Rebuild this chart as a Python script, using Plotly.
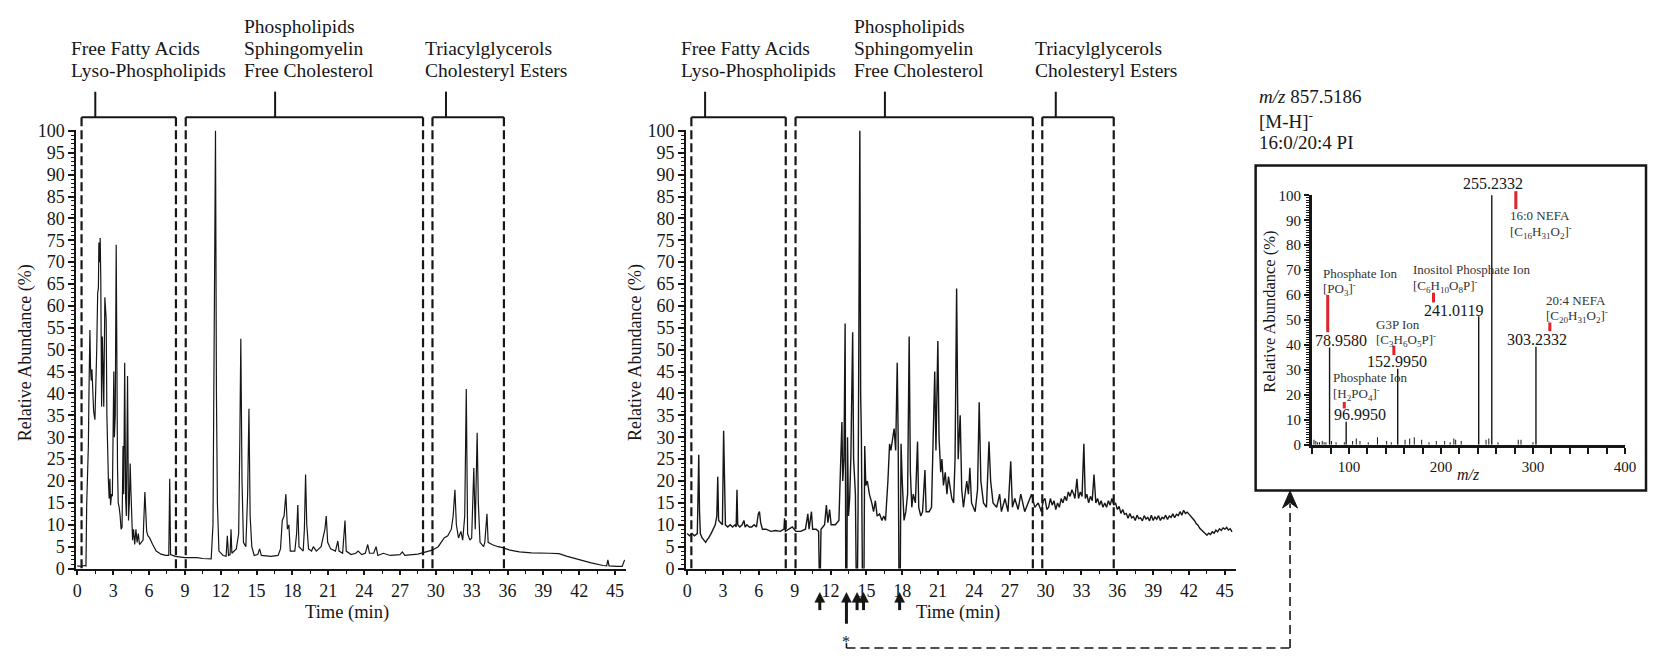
import plotly.graph_objects as go

W, H = 1658, 660
FONT = "Liberation Serif, 'Times New Roman', Times, serif"
INK = "#161616"

# ---------------- data ----------------
LEFT_T = [0.0, 0.3, 0.6, 0.72, 0.78, 0.86, 0.92, 0.97, 1.05, 1.1, 1.16, 1.22, 1.29, 1.36, 1.47, 1.55, 1.62, 1.7, 1.76, 1.8,
          1.86, 1.91, 1.96, 2.03, 2.09, 2.15, 2.21, 2.3, 2.36, 2.41, 2.47, 2.53, 2.6, 2.66, 2.72, 2.78, 2.86, 2.93, 3.0, 3.05,
          3.1, 3.17, 3.25, 3.3, 3.36, 3.42, 3.5, 3.58, 3.66, 3.74, 3.82, 3.88, 3.96, 4.04, 4.1, 4.2, 4.28, 4.35, 4.42, 4.48,
          4.55, 4.62, 4.7, 4.8, 4.9, 5.0, 5.1, 5.2, 5.35, 5.5, 5.65, 5.72, 5.8, 5.9, 6.05, 6.3, 6.6, 7.0, 7.4, 7.65,
          7.73, 7.8, 8.2, 9.0, 10.0, 10.5, 11.2, 11.35, 11.48, 11.56, 11.64, 11.72, 11.85, 12.2, 12.45, 12.55, 12.65, 12.78, 12.86, 12.93,
          13.3, 13.5, 13.6, 13.68, 13.78, 13.9, 14.1, 14.25, 14.36, 14.46, 14.6, 14.8, 15.1, 15.25, 15.4, 16.2, 16.8, 17.0, 17.15, 17.3,
          17.45, 17.58, 17.7, 17.82, 18.2, 18.35, 18.45, 18.55, 18.9, 19.0, 19.1, 19.2, 19.35, 19.6, 19.75, 20.0, 20.4, 20.6, 20.72, 20.83,
          20.95, 21.2, 21.6, 21.8, 21.9, 22.2, 22.4, 22.5, 22.9, 23.3, 23.5, 23.8, 24.1, 24.3, 24.45, 24.8, 25.0, 25.15, 25.6, 26.2,
          27.0, 27.2, 27.4, 28.5, 29.2, 29.7, 30.2, 30.7, 31.0, 31.3, 31.45, 31.6, 31.72, 31.9, 32.1, 32.25, 32.42, 32.55, 32.66, 32.85,
          33.0, 33.18, 33.3, 33.46, 33.56, 33.7, 34.0, 34.1, 34.28, 34.38, 34.7, 35.2, 35.6, 36.2, 37.0, 38.0, 39.5, 40.3, 41.0, 42.0,
          43.0, 44.0, 44.3, 44.4, 44.5, 45.2, 45.6, 45.8]
LEFT_Y = [0.6, 0.5, 0.7, 0.6, 14.5, 22, 28, 40, 54.5, 46, 43, 45.5, 38, 36, 34, 40, 50, 63, 64, 74.5,
          70, 75.5, 66, 37, 53, 46, 37, 62, 58, 57, 35, 25, 20, 16, 20.5, 14.5, 17, 16.5, 36, 45,
          30, 35, 74, 45, 23, 15, 14, 12, 9, 9.5, 28, 17, 47, 16, 12, 44, 11, 15, 24, 18,
          10, 6.5, 9, 5.5, 9, 6, 8, 5.5, 6, 6.5, 17.5, 12, 8.5, 7.5, 7, 5.5, 4, 3.3, 3, 3,
          20.5, 3.2, 2.8, 2.5, 2.5, 2.3, 2.2, 10, 73, 100, 40, 15, 4, 3, 2.8, 7.5, 3, 3.2, 9, 3.5,
          4.5, 8, 30, 52.5, 20, 6, 5, 17, 36.5, 12, 5, 3, 3.2, 4.5, 3, 2.8, 3, 4.5, 11, 12,
          17, 9, 10, 4, 4, 8, 14.5, 5, 4, 9, 21.5, 10, 4.5, 4, 5, 4, 5, 8, 9, 12,
          6, 4.5, 4, 6.3, 4, 3.5, 11, 4, 3.2, 3.5, 4, 3.2, 3.5, 5.5, 3.5, 3.5, 5, 3, 3.5, 3,
          3.2, 3.8, 3, 3.3, 3.8, 4.2, 5, 7, 7.5, 9, 12, 18, 10, 7, 8.5, 6.5, 12, 41, 8, 6.5,
          7, 23, 9, 31, 15, 6, 5, 6, 12.5, 6, 5.5, 5, 4.8, 4.2, 3.8, 3.6, 3.5, 3.4, 2.8, 2.0,
          1.3, 0.7, 0.6, 2, 0.6, 0.5, 0.5, 2]

MID_T = [0.0, 0.2, 0.4, 0.6, 0.85, 0.97, 1.03, 1.1, 1.25, 1.4, 1.55, 1.65, 1.8, 2.0, 2.2, 2.35, 2.48, 2.56, 2.63, 2.8,
         2.95, 3.05, 3.12, 3.2, 3.4, 3.6, 3.8, 4.0, 4.1, 4.17, 4.23, 4.4, 4.6, 4.75, 4.85, 5.0, 5.2, 5.4, 5.6, 5.8,
         5.95, 6.05, 6.15, 6.3, 6.6, 7.0, 7.4, 7.8, 8.1, 8.15, 8.22, 8.5, 8.8, 9.1, 9.5, 9.9, 10.1, 10.2, 10.4, 10.5,
         10.8, 11.0, 11.05, 11.15, 11.2, 11.5, 11.65, 11.78, 11.92, 12.05, 12.4, 12.7, 12.8, 12.95, 13.02, 13.12, 13.22, 13.27, 13.37, 13.42,
         13.5, 13.6, 13.7, 13.85, 13.93, 14.02, 14.08, 14.14, 14.26, 14.3, 14.38, 14.45, 14.52, 14.58, 14.66, 14.8, 14.86, 14.95, 15.08, 15.25,
         15.45, 15.6, 15.75, 15.9, 16.1, 16.3, 16.45, 16.6, 16.8, 16.94, 17.05, 17.18, 17.32, 17.45, 17.58, 17.66, 17.72, 17.84, 17.9, 18.0,
         18.15, 18.3, 18.45, 18.58, 18.68, 18.8, 18.92, 19.1, 19.28, 19.38, 19.55, 19.7, 19.9, 20.0, 20.25, 20.45, 20.62, 20.72, 20.82, 20.98,
         21.08, 21.22, 21.32, 21.45, 21.6, 21.74, 21.87, 22.0, 22.15, 22.3, 22.42, 22.55, 22.68, 22.85, 22.98, 23.12, 23.26, 23.4, 23.54, 23.66,
         23.8, 24.1, 24.3, 24.44, 24.58, 24.8, 25.05, 25.26, 25.4, 25.6, 25.9, 26.15, 26.3, 26.6, 26.85, 27.08, 27.22, 27.42, 27.7, 27.92,
         28.25, 28.55, 28.82, 29.1, 29.38, 29.65, 29.8, 29.95, 30.1, 30.25, 30.4, 30.55, 30.7, 30.85, 31.0, 31.15, 31.3, 31.45, 31.6, 31.75,
         31.9, 32.05, 32.2, 32.35, 32.45, 32.62, 32.75, 32.9, 33.05, 33.2, 33.32, 33.45, 33.6, 33.75, 33.9, 34.05, 34.2, 34.35, 34.5, 34.65,
         34.8, 34.95, 35.1, 35.25, 35.4, 35.55, 35.7, 35.85, 36.0, 36.15, 36.3, 36.45, 36.6, 36.75, 36.9, 37.05, 37.2, 37.35, 37.5, 37.65,
         37.8, 37.95, 38.1, 38.25, 38.4, 38.55, 38.7, 38.85, 39.0, 39.15, 39.3, 39.45, 39.6, 39.75, 39.9, 40.05, 40.2, 40.35, 40.5, 40.65,
         40.8, 40.95, 41.1, 41.25, 41.4, 41.55, 41.7, 41.85, 42.0, 42.15, 42.3, 42.45, 42.6, 42.75, 42.9, 43.05, 43.2, 43.35, 43.5, 43.65,
         43.8, 43.95, 44.1, 44.25, 44.4, 44.55, 44.7, 44.85, 45.0, 45.15, 45.3, 45.45, 45.6]
MID_Y = [8, 7.5, 8, 7.5, 8, 26, 13.5, 8, 7, 6.5, 6, 6.5, 7, 8, 9, 10, 12, 21, 11, 10.5,
         10, 31.5, 15, 10, 9.5, 10, 9.5, 10, 9.5, 18, 10, 9.5, 10, 11, 9.5, 10, 9.5, 9.5, 10, 9.5,
         12.5, 13, 10.5, 9, 9, 8.5, 8.7, 8.5, 9, 11.5, 8.5, 9, 9.5, 8.5, 8.5, 9, 12.5, 9, 13, 9,
         9, 8.5, 0, 0, 9, 10, 14.5, 10.5, 13.5, 10, 10, 11, 20, 33.5, 20, 25, 56, 0, 0, 30,
         12, 16, 25.5, 54, 25, 20, 17, 0, 0, 13, 75, 100, 40, 30, 0, 0, 28, 19, 20, 17,
         15, 13, 15.5, 12, 12.5, 11, 12, 11, 20, 28.5, 27, 30, 32, 27, 47, 30, 0, 0, 28.5, 20,
         11, 13, 17, 53, 22, 14, 17, 15, 29, 14, 12, 13, 22.5, 13, 13, 14, 33, 45, 27, 52,
         30, 22, 25, 19, 22, 17, 21, 18, 16, 15, 25, 64, 25, 35, 18, 14, 17, 20, 17, 23,
         15, 13, 18, 38, 20, 15, 14, 29, 20, 15, 14, 17, 13, 16, 13, 24.5, 14, 16, 13.5, 17,
         13, 15, 17, 14, 15, 13, 15.5, 16, 13.5, 14, 16, 14.5, 15.5, 13.5, 15, 14, 16, 15, 16.5, 15.5,
         17.5, 16.5, 18, 17, 16, 20.5, 16, 17.5, 16.5, 28.5, 16, 17, 15, 16.5, 15.5, 21.5, 15, 16, 14.5, 15.5,
         14, 15, 14, 15.5, 14.5, 16, 14.5, 15, 13.5, 14.2, 12.6, 13.5, 12.4, 12.6, 11.5, 12.6, 11.6, 11.9, 11.0, 12.2,
         11.4, 11.6, 10.9, 12.1, 11.3, 11.7, 10.9, 12.2, 11.0, 11.8, 11.3, 12.1, 11.0, 11.7, 11.4, 12.2, 11.2, 12.0, 11.7, 12.5,
         11.6, 12.4, 12.1, 13.0, 12.2, 13.3, 12.6, 12.9, 12.4, 12.1, 11.5, 11.0, 10.3, 9.9, 9.2, 8.8, 8.4, 7.9, 7.6, 8.1,
         7.8, 8.4, 8.1, 8.8, 8.4, 9.1, 8.7, 9.3, 9.0, 9.4, 8.8, 9.1, 8.4]

# MS/MS spectrum (inset)
MZ_MAIN = [78.9580, 96.9950, 152.9950, 241.0119, 255.2332, 303.2332]
INT_MAIN = [39, 9.2, 30.5, 51.5, 100, 39.3]
MZ_MINOR = [62, 64, 66, 68, 71, 73, 75, 81, 86, 95, 104, 108, 112, 121, 131, 141, 146, 161, 166, 171,
            179, 187, 195, 204, 210, 214, 216, 222, 249, 252, 262, 284, 287, 300]
INT_MINOR = [2, 1.5, 1, 1, 1.5, 1, 1, 1.5, 1, 1, 1.5, 2.5, 1.5, 1, 3, 1.5, 1, 2, 2.5, 3,
             2, 1, 1.5, 1.5, 1, 2.5, 2, 1.5, 2, 2.5, 1, 2, 2, 1]

REGION_BOUNDS = [(0.35, 8.25), (9.07, 28.93), (29.72, 35.7)]
REGION_TICKS = [1.5, 16.55, 30.85]
REGION_LABELS = [["Free Fatty Acids", "Lyso-Phospholipids"],
                 ["Phospholipids", "Sphingomyelin", "Free Cholesterol"],
                 ["Triacylglycerols", "Cholesteryl Esters"]]
ARROW_TIMES = [11.1, 13.33, 14.22, 14.76, 17.78]
STARRED = 13.33

# ---------------- helpers ----------------
PX_PER_MIN = 12.05
ZERO_PX = {"x": 75.0, "x2": 690.0}


def fx(px):
    return px / W


def fy(py):
    return 1 - py / H


def t2px(ax, t):
    return ZERO_PX[ax] + t * PX_PER_MIN


fig = go.Figure()

fig.add_trace(go.Scatter(x=LEFT_T, y=LEFT_Y, mode="lines", line=dict(color=INK, width=1.2),
                         xaxis="x", yaxis="y", showlegend=False, hoverinfo="skip"))
fig.add_trace(go.Scatter(x=MID_T, y=MID_Y, mode="lines", line=dict(color=INK, width=1.4),
                         xaxis="x2", yaxis="y2", showlegend=False, hoverinfo="skip"))

sx, sy = [], []
for m, v in zip(MZ_MINOR, INT_MINOR):
    sx += [m, m, None]
    sy += [0, v, None]
fig.add_trace(go.Scatter(x=sx, y=sy, mode="lines", line=dict(color=INK, width=1.0),
                         xaxis="x3", yaxis="y3", showlegend=False, hoverinfo="skip"))
bx, by = [], []
for m, v in zip(MZ_MAIN, INT_MAIN):
    bx += [m, m, None]
    by += [0, v, None]
fig.add_trace(go.Scatter(x=bx, y=by, mode="lines", line=dict(color=INK, width=1.4),
                         xaxis="x3", yaxis="y3", showlegend=False, hoverinfo="skip"))

tickfont = dict(family=FONT, size=18, color=INK)
Y_BOT, Y_TOP = 576.3, 124.95


def time_axis(ax):
    x0 = t2px(ax, -0.1)
    x1 = t2px(ax, 45.9)
    anchor = "y" if ax == "x" else "y2"
    return dict(domain=[fx(x0), fx(x1)], anchor=anchor, range=[-0.1, 45.9], tickmode="linear", tick0=0, dtick=3,
                ticks="outside", ticklen=5, tickwidth=1.5, tickcolor=INK, showline=True, linecolor=INK,
                linewidth=1.6, showgrid=False, zeroline=False, tickfont=tickfont,
                minor=dict(tick0=0, dtick=1.5, ticks="outside", ticklen=4, tickwidth=1.2, tickcolor=INK, showgrid=False))


def abund_axis(anchor):
    return dict(domain=[fy(Y_BOT), fy(Y_TOP)], anchor=anchor, range=[0, 100.3], tickmode="linear", tick0=0, dtick=5,
                ticks="outside", ticklen=6, tickwidth=1.5, tickcolor=INK, showline=True, linecolor=INK,
                linewidth=1.6, showgrid=False, zeroline=False, tickfont=tickfont,
                minor=dict(tick0=0, dtick=1, ticks="outside", ticklen=3, tickwidth=1, tickcolor=INK, showgrid=False))


inset_font = dict(family=FONT, size=15, color=INK)

fig.update_layout(
    width=W, height=H, margin=dict(l=0, r=0, t=0, b=0),
    paper_bgcolor="white", plot_bgcolor="rgba(0,0,0,0)", showlegend=False,
    font=dict(family=FONT, color=INK),
    xaxis=time_axis("x"),
    yaxis=abund_axis("x"),
    xaxis2=time_axis("x2"),
    yaxis2=abund_axis("x2"),
    xaxis3=dict(domain=[fx(1320), fx(1636)], anchor="y3", range=[59.7, 400.2], tickmode="linear",
                tick0=0, dtick=100, ticks="outside", ticklen=6, tickwidth=1.6, tickcolor=INK,
                showline=True, linecolor=INK, linewidth=2.5, showgrid=False, zeroline=False, tickfont=inset_font,
                minor=dict(tick0=0, dtick=20, ticks="outside", ticklen=6, tickwidth=1.6, tickcolor=INK, showgrid=False)),
    yaxis3=dict(domain=[fy(449), fy(191.8)], anchor="x3", range=[0, 100.3], tickmode="linear", tick0=0, dtick=10,
                ticks="outside", ticklen=5, tickwidth=1.5, tickcolor=INK, showline=True, linecolor=INK,
                linewidth=2.5, showgrid=False, zeroline=False, tickfont=inset_font,
                minor=dict(tick0=0, dtick=1, ticks="outside", ticklen=3, tickwidth=1, tickcolor=INK, showgrid=False)),
)

shapes = []
annotations = []
DASH = "9px,4px"
BR_TOP, BR_TICK = 112.3, 86


def text(txt, x, y, size, xanchor="left", color=INK, angle=0):
    annotations.append(dict(text=txt, xref="paper", yref="paper", x=fx(x), y=fy(y), xanchor=xanchor,
                            yanchor="middle", showarrow=False, textangle=angle,
                            font=dict(family=FONT, size=size, color=color)))


for xr in ("x", "x2"):
    for (a, b), tk in zip(REGION_BOUNDS, REGION_TICKS):
        shapes.append(dict(type="line", xref=xr, yref="paper", x0=a, x1=b, y0=fy(BR_TOP), y1=fy(BR_TOP),
                           line=dict(color=INK, width=2)))
        for v in (a, b):
            shapes.append(dict(type="line", xref=xr, yref="paper", x0=v, x1=v, y0=fy(BR_TOP), y1=fy(Y_BOT),
                               line=dict(color=INK, width=2.2, dash=DASH)))
        shapes.append(dict(type="line", xref=xr, yref="paper", x0=tk, x1=tk, y0=fy(BR_TICK), y1=fy(BR_TOP),
                           line=dict(color=INK, width=2)))
    label_t = [-0.7, 13.8, 28.95]
    for lt, lines in zip(label_t, REGION_LABELS):
        ys = [42, 64.5] if len(lines) == 2 else [19, 42, 64.5]
        for txt, yy in zip(lines, ys):
            text(txt, t2px(xr, lt), yy, 19.5)

# axis titles
for cx in (23, 638):
    text("Relative Abundance (%)", cx, 354, 18, xanchor="center", angle=-90)
for cx in (347, 963):
    text("Time (min)", cx, 621, 18.5, xanchor="center")

# arrows under middle chart (shaft + filled head)
TIP = 601
for t in ARROW_TIMES:
    ax_px = t2px("x2", t)
    tail = 633 if t == STARRED else 619
    shapes.append(dict(type="line", xref="paper", yref="paper", x0=fx(ax_px), x1=fx(ax_px),
                       y0=fy(TIP + 6), y1=fy(tail), line=dict(color=INK, width=3)))
    shapes.append(dict(type="path", xref="paper", yref="paper",
                       path=f"M {fx(ax_px)} {fy(TIP)} L {fx(ax_px - 5)} {fy(TIP + 10)} L {fx(ax_px + 5)} {fy(TIP + 10)} Z",
                       fillcolor=INK, line=dict(color=INK, width=0.5)))
sx0 = t2px("x2", STARRED)
text("*", sx0, 651, 16, xanchor="center")

# connector to inset
for (x0, y0, x1, y1) in [(sx0, 653, sx0, 658), (sx0, 658, 1298, 658), (1298, 658, 1298, 510)]:
    shapes.append(dict(type="line", xref="paper", yref="paper", x0=fx(x0), y0=fy(y0), x1=fx(x1), y1=fy(y1),
                       line=dict(color=INK, width=1.6, dash="9px,5px")))
shapes.append(dict(type="path", xref="paper", yref="paper",
                   path=f"M {fx(1298)} {fy(496.5)} L {fx(1290.5)} {fy(514)} L {fx(1298)} {fy(508.5)} L {fx(1305.5)} {fy(514)} Z",
                   fillcolor=INK, line=dict(color=INK, width=1)))

# inset box
shapes.append(dict(type="rect", xref="paper", yref="paper", x0=fx(1263.3), y0=fy(496), x1=fx(1657), y1=fy(162),
                   line=dict(color=INK, width=2.5)))

# inset header
text("<i>m/z</i> 857.5186", 1265, 91, 19)
text("[M-H]<sup>-</sup>", 1265, 115, 19)
text("16:0/20:4 PI", 1265, 138, 19)

# inset axis titles
text("Relative Abundance (%)", 1277, 312, 16.5, xanchor="center", angle=-90)
text("<i>m/z</i>", 1478, 480, 16, xanchor="center")

# peak values
for txt, cx, cy in [("78.9580", 1349, 341.7), ("96.9950", 1368.7, 418.3), ("152.9950", 1405.7, 363.3),
                    ("241.0119", 1463.3, 310.7), ("255.2332", 1502.7, 180.7), ("303.2332", 1547.3, 341)]:
    text(txt, cx, cy, 16, xanchor="center")

# fragment names
for txt, lx, cy in [("Phosphate Ion", 1329, 273.3), ("[PO<sub>3</sub>]<sup>-</sup>", 1329, 289.3),
                    ("Inositol Phosphate Ion", 1420, 269), ("[C<sub>6</sub>H<sub>10</sub>O<sub>8</sub>P]<sup>-</sup>", 1420, 285.7),
                    ("16:0 NEFA", 1518.3, 213.3), ("[C<sub>16</sub>H<sub>31</sub>O<sub>2</sub>]<sup>-</sup>", 1518.3, 230),
                    ("20:4 NEFA", 1554.3, 301), ("[C<sub>20</sub>H<sub>31</sub>O<sub>2</sub>]<sup>-</sup>", 1554.3, 316.7),
                    ("G3P Ion", 1382.7, 325), ("[C<sub>3</sub>H<sub>6</sub>O<sub>5</sub>P]<sup>-</sup>", 1382.7, 341),
                    ("Phosphate Ion", 1339.3, 380), ("[H<sub>2</sub>PO<sub>4</sub>]<sup>-</sup>", 1339.3, 396.7)]:
    text(txt, lx, cy, 13, color="#333333")

# red markers
for mx, y0, y1 in [(1336, 295, 333.3), (1352.7, 405, 411.7), (1402.7, 347.3, 356.7),
                   (1442.7, 292.7, 302.7), (1525.7, 188.3, 206.7), (1560, 323.3, 332.3)]:
    shapes.append(dict(type="line", xref="paper", yref="paper", x0=fx(mx), x1=fx(mx), y0=fy(y0), y1=fy(y1),
                       line=dict(color="#e3222b", width=3)))

fig.update_layout(shapes=shapes, annotations=annotations)
fig.write_html("out.html")
